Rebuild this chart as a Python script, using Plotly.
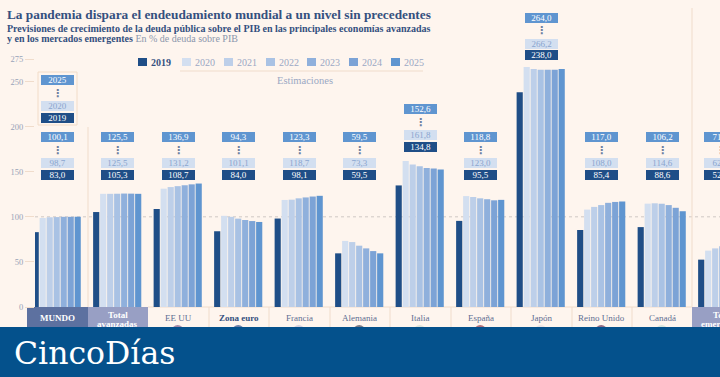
import plotly.graph_objects as go

years = ["2019", "2020", "2021", "2022", "2023", "2024", "2025"]
colors = ["#1f4e87", "#d3dff0", "#bdcfe9", "#a9c2e4", "#8fb0dc", "#7ca3d6", "#5f95d0"]
categories = ["MUNDO", "Total avanzadas", "EE UU", "Zona euro", "Francia", "Alemania", "Italia",
              "España", "Japón", "Reino Unido", "Canadá", "Total emergentes"]
v2019 = [83.0, 105.3, 108.7, 84.0, 98.1, 59.5, 134.8, 95.5, 238.0, 85.4, 88.6, 52.5]
v2020 = [98.7, 125.5, 131.2, 101.1, 118.7, 73.3, 161.8, 123.0, 266.2, 108.0, 114.6, 62.5]
v2021 = [99.5, 125.5, 133.0, 100.0, 119.0, 72.0, 158.0, 122.0, 264.0, 111.0, 115.0, 65.0]
v2022 = [99.7, 125.6, 134.0, 98.0, 120.5, 68.0, 156.0, 120.5, 263.0, 113.0, 114.5, 67.5]
v2023 = [100.0, 125.8, 135.0, 96.5, 121.5, 65.0, 154.0, 119.5, 263.0, 115.5, 113.0, 69.0]
v2024 = [100.0, 125.7, 136.0, 95.3, 122.5, 62.0, 153.5, 118.3, 263.0, 116.5, 110.0, 70.5]
v2025 = [100.1, 125.5, 136.9, 94.3, 123.3, 59.5, 152.6, 118.8, 264.0, 117.0, 106.2, 71.5]
series = [v2019, v2020, v2021, v2022, v2023, v2024, v2025]
label_2025 = ["100,1", "125,5", "136,9", "94,3", "123,3", "59,5", "152,6", "118,8", "264,0", "117,0", "106,2", "71,5"]
label_2020 = ["98,7", "125,5", "131,2", "101,1", "118,7", "73,3", "161,8", "123,0", "266,2", "108,0", "114,6", "62,5"]
label_2019 = ["83,0", "105,3", "108,7", "84,0", "98,1", "59,5", "134,8", "95,5", "238,0", "85,4", "88,6", "52,5"]
label_top = [137, 137, 137, 137, 137, 137, 109, 137, 17.5, 137, 137, 137]
flag_colors = [None, None, "#a58aa8", "#6b7fa8", "#d5d0de", "#7a7a86", "#dfe3da", "#b0707a", "#ece4e4", "#8f6a84", "#d8e5dd", None]

BG = "#fef5ee"
LINE = "#f0dccb"
NAVY = "#34507f"
GREY = "#98a3b8"
SERIF = "Liberation Serif"
L, T, B = 35, 59, 307
X0, STEP = 56.7, 60.5

px = lambda x: (x - L) / (720 - L)
py = lambda y: (B - y) / (B - T)
cx = lambda i: X0 + STEP * i

fig = go.Figure()
for y, c, vals in zip(years, colors, series):
    fig.add_bar(x=categories, y=vals, name=y, marker=dict(color=c, line_width=0), showlegend=False)

shapes, ann = [], []


def rect(x0, y0, x1, y1, fill=None, line=None, layer="below"):
    shapes.append(dict(type="rect", xref="paper", yref="paper", x0=px(x0), x1=px(x1), y0=py(y0), y1=py(y1),
                       fillcolor=fill or "rgba(0,0,0,0)", line=dict(color=line or "rgba(0,0,0,0)", width=1), layer=layer))


def seg(x0, y0, x1, y1, color=LINE, dash="solid"):
    shapes.append(dict(type="line", xref="paper", yref="paper", x0=px(x0), x1=px(x1), y0=py(y0), y1=py(y1),
                       line=dict(color=color, width=1, dash=dash), layer="below"))


def text(x, y, s, size=8, color=NAVY, anchor="center", family=SERIF):
    ann.append(dict(xref="paper", yref="paper", x=px(x), y=py(y), text=s, showarrow=False, xanchor=anchor,
                    yanchor="middle", font=dict(size=size, color=color, family=family), borderpad=0, borderwidth=0))


def box(x, y, s, fill, color, w=33, h=10):
    ann.append(dict(xref="paper", yref="paper", x=px(x), y=py(y), text=s, showarrow=False, xanchor="center",
                    yanchor="middle", width=w, height=h, bgcolor=fill, borderpad=0, borderwidth=0,
                    font=dict(size=9, color=color, family=SERIF)))


def tag_stack(x, y, top, mid, low):
    box(x, y, top, colors[6], "#ffffff")
    text(x, y + 13, "<b>⋮</b>", 11, "#6f80a0", family="DejaVu Sans")
    box(x, y + 26, mid, colors[1], "#8aa5cf")
    box(x, y + 38, low, colors[0], "#ffffff")


# reference line at 100
shapes.append(dict(type="line", xref="paper", yref="y", x0=0, x1=1, y0=100, y1=100,
                   line=dict(color="#cfc8c4", width=1, dash="dot"), layer="below"))

# category cells
rect(27, 307, 88, 327, fill="#5d71a0")
rect(88, 307, 148, 327, fill="#989fc4")
rect(692, 307, 722, 327, fill="#989fc4")
for x in [209, 269, 330, 390, 451, 511, 572, 632]:
    seg(x, 307, x, 327)
seg(148, 307, 692, 307)
seg(88, 127, 88, 307)
seg(692, 8, 692, 307)

# flags, only their tops show above the banner
for i, c in enumerate(flag_colors):
    if c:
        shapes.append(dict(type="circle", xref="paper", yref="paper", x0=px(cx(i) - 6), x1=px(cx(i) + 6),
                           y0=py(337), y1=py(325), fillcolor=c, line_width=0, layer="above"))

# value tags
for i in range(len(categories)):
    bx = cx(i) + 0.5 if i < 11 else 720
    tag_stack(bx, label_top[i], label_2025[i], label_2020[i], label_2019[i])

# tag key
rect(38, 72, 77, 125, line="#f2dcc8")
tag_stack(57, 80, "2025", "2020", "2019")

# category names
cat_lines = [["MUNDO"], ["Total", "avanzadas"], ["EE UU"], ["Zona euro"], ["Francia"], ["Alemania"],
             ["Italia"], ["España"], ["Japón"], ["Reino Unido"], ["Canadá"], ["Total", "emergentes"]]
bold_cats = (0, 1, 3, 11)
for i, lines in enumerate(cat_lines):
    white = i in (0, 1, 11)
    col = "#ffffff" if white else ("#34507f" if i in bold_cats else "#5f6f92")
    ys = [317.5] if len(lines) == 1 else [315, 324]
    for yy, s in zip(ys, lines):
        text(cx(i) + 0.5, yy, "<b>%s</b>" % s if i in bold_cats else s, 9, col)

# legend
leg_x = [137, 181, 223, 265, 306, 348, 390]
for x, y, c in zip(leg_x, years, colors):
    box(x + 5, 62, "", c, c, w=9, h=8)
    text(x + 14, 62, ("<b>%s</b>" % y) if y == "2019" else y, 10, NAVY if y == "2019" else "#9aa8c4", "left")
seg(180, 71, 423, 71)
text(305, 80.5, "Estimaciones", 10.5, "#9aa8c4")

# titles
text(7, 14.5, "<b>La pandemia dispara el endeudamiento mundial a un nivel sin precedentes</b>", 13.3, NAVY, "left")
text(7, 28.5, "<b>Previsiones de crecimiento de la deuda pública sobre el PIB en las principales economías avanzadas</b>", 10, NAVY, "left")
text(7, 38.5, "<b>y en los mercados emergentes</b> <span style='color:#8b97ad'>En % de deuda sobre PIB</span>", 10, NAVY, "left")

# banner
ann.append(dict(xref="paper", yref="paper", x=px(360), y=py(352), text="", showarrow=False, xanchor="center",
                yanchor="middle", width=722, height=50, bgcolor="#04518c", borderpad=0, borderwidth=0))
text(14, 353, "CincoDías", 31.5, "#ffffff", "left", family="DejaVu Serif")

fig.update_layout(
    width=720, height=377, autosize=False,
    margin=dict(l=L, r=0, t=T, b=377 - B, pad=0),
    paper_bgcolor=BG, plot_bgcolor=BG,
    barmode="group", bargap=0.19, bargroupgap=0.12,
    shapes=shapes, annotations=ann,
    xaxis=dict(type="category", range=[(L - X0) / STEP, (720 - X0) / STEP], showticklabels=False,
               showgrid=False, zeroline=False, ticks="", fixedrange=True),
    yaxis=dict(range=[0, 275], tickmode="array", tickvals=[0, 50, 100, 150, 200, 250, 275],
               ticktext=["0", "50", "100", "150", "200", "250", "275"], ticks="outside", ticklen=9,
               tickcolor=LINE, tickwidth=1, showgrid=False, zeroline=False, showline=False,
               tickfont=dict(size=8.5, color=GREY, family=SERIF)),
)
fig.write_html("out.html", config={"displayModeBar": False},
               post_script="document.body.style.margin='0';document.body.style.overflow='hidden';document.body.style.background='%s';" % BG)
